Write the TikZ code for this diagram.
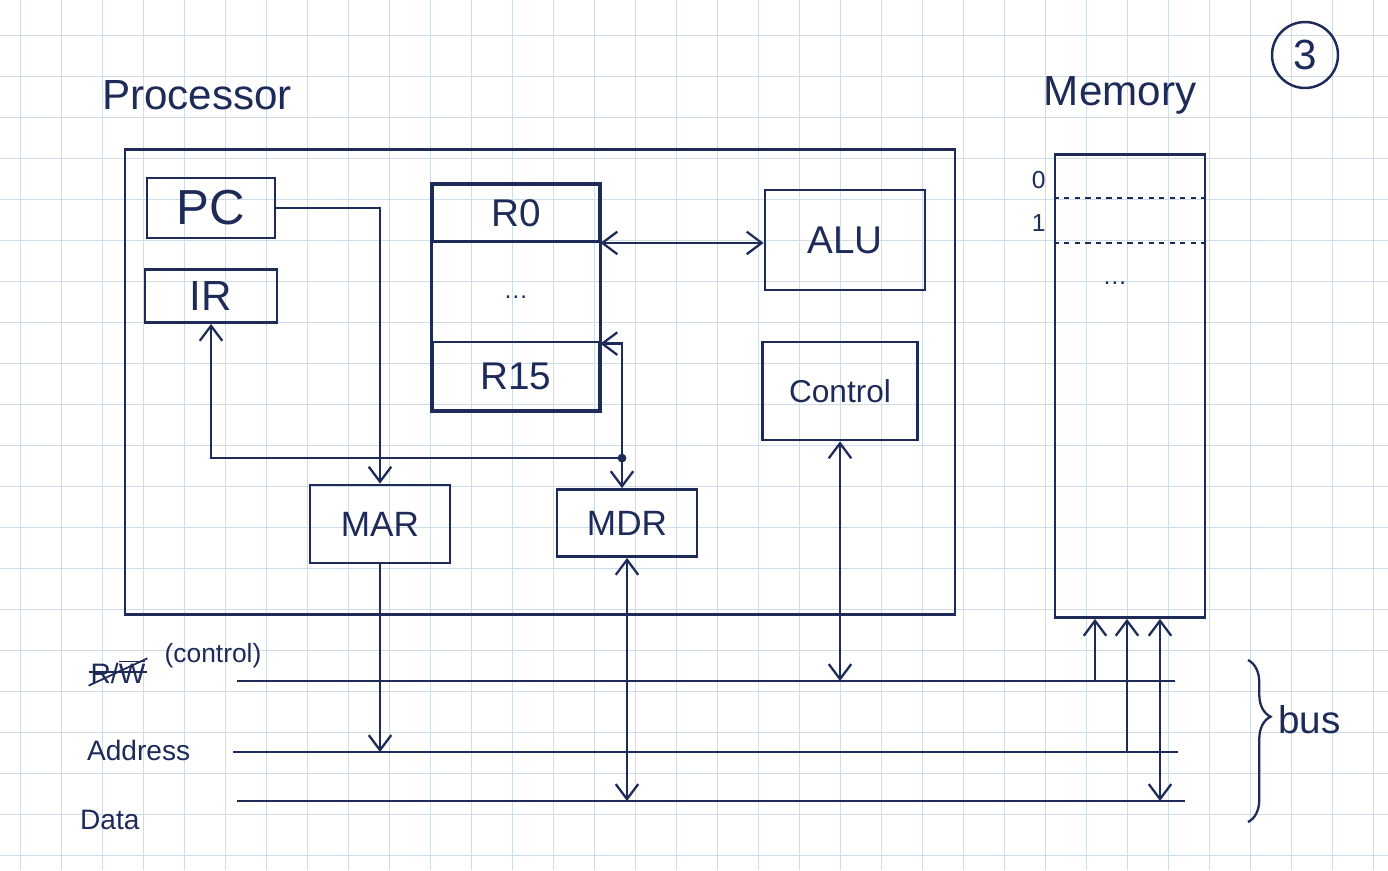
\documentclass[tikz,border=0pt]{standalone}
\usepackage{fontspec}
\setmainfont{Liberation Sans}
\usetikzlibrary{positioning,fit,calc,arrows.meta,decorations.pathreplacing}
\definecolor{ink}{RGB}{30,42,88}
\definecolor{gridc}{RGB}{206,220,232}
\newcommand{\fs}[1]{\fontsize{#1}{#1}\selectfont}

\begin{document}
\begin{tikzpicture}[
  x=0.02cm, y=-0.02cm,
  color=ink,
  >={Straight Barb[length=3mm,width=4.5mm,line width=1.3pt]},
  box/.style={draw, line width=1.6pt, inner sep=0pt, font=\fs{22}},
  wire/.style={line width=1.3pt},
  busline/.style={line width=1.5pt},
  big/.style={font=\fs{24}, inner sep=1pt},
  mid/.style={font=\fs{16}, inner sep=1pt},
  tiny/.style={font=\fs{14}, inner sep=1pt},
  gridline/.style={draw=gridc, line width=0.5pt},
]

% ---- paper ----
\fill[white] (0,0) rectangle (1388,870);
\useasboundingbox (0,0) rectangle (1388,870);
\foreach \gx in {20,61,...,1388} \draw[gridline] (\gx,0) -- (\gx,870);
\foreach \gy in {35,76,...,870} \draw[gridline] (0,\gy) -- (1388,\gy);

% ---- page number ----
\node[draw, circle, line width=1.4pt, minimum size=1.32cm, font=\fs{24}] (pg) at (1305,55) {3};

% ---- processor ----
\node[box, minimum width=16.6cm, minimum height=9.3cm] (CPU) at (540,382) {};
\node[big, anchor=south west] (cpuL) at (100,112) {Processor};

\node[box, minimum width=2.56cm, minimum height=1.2cm, font=\fs{28}] (PC) at (211,208) {PC};
\node[box, minimum width=2.64cm, minimum height=1.06cm, font=\fs{24}] (IR) at (211,296) {IR};

\node[box, minimum width=3.32cm, minimum height=1.14cm] (R0) at (516,213) {R0};
\node[box, minimum width=3.32cm, minimum height=1.36cm] (R15) at (516,376) {R15};
\node[fit=(R0)(R15), inner sep=0pt, draw, line width=1.6pt] (RF) {};
\node[tiny] (rfdots) at (RF.center) {\dots};

\node[box, minimum width=3.2cm, minimum height=2cm] (ALU) at (845,240) {ALU};
\node[box, minimum width=3.1cm, minimum height=1.96cm, font=\fs{18}] (Ctl) at (840,391) {Control};

\node[box, minimum width=2.8cm, minimum height=1.56cm, font=\fs{20}] (MAR) at (380,524) {MAR};
\node[box, minimum width=2.8cm, minimum height=1.34cm, font=\fs{20}] (MDR) at (627,523) {MDR};

% ---- memory ----
\node[box, minimum width=3cm, minimum height=9.26cm] (MEM) at (1130,386) {};
\node[big, anchor=south] (memL) at (1120,116) {Memory};
\draw[dashed, line width=1pt] ($(MEM.north west)+(0,45)$) -- ($(MEM.north east)+(0,45)$);
\draw[dashed, line width=1pt] ($(MEM.north west)+(0,90)$) -- ($(MEM.north east)+(0,90)$);
\node[tiny, anchor=east] (a0) at ($(MEM.north west)+(-6,27)$) {0};
\node[tiny, anchor=east] (a1) at ($(MEM.north west)+(-6,70)$) {1};
\node[tiny] (memdots) at ($(MEM.north)+(-15,130)$) {\dots};

% ---- internal wires ----
\draw[wire, ->] (PC.east) -| (MAR.north);
\coordinate (hub) at ($(MDR.north)+(-5,-30)$);
\coordinate (r15in) at ($(R15.north east)+(0,3)$);
\fill (hub) circle (2.5pt);
\draw[wire, ->] (hub) -- (hub |- MDR.north);
\draw[wire, ->] (hub) -| (IR.south);
\draw[wire, ->] (hub) |- (r15in);
\draw[wire, <->] (R0.south east) -- (R0.south east -| ALU.west);

% ---- bus ----
\coordinate (ctlL) at (237,681);
\coordinate (ctlR) at (1175,681);
\coordinate (adrL) at (233,752);
\coordinate (adrR) at (1178,752);
\coordinate (datL) at (237,801);
\coordinate (datR) at (1185,801);
\draw[busline] (ctlL) -- (ctlR);
\draw[busline] (adrL) -- (adrR);
\draw[busline] (datL) -- (datR);

\node[mid] (rwL) at (118,672) {R/$\overline{\mathrm{W}}$};
\draw[line width=1pt] (rwL.south west) -- (rwL.north east);
\draw[line width=1pt] (rwL.west) -- (rwL.east);
\node[tiny, font=\fs{15}] (ctlLab) at (213,656) {(control)};
\node[mid, anchor=west] (adrLab) at (85,750) {Address};
\node[mid, anchor=west] (datLab) at (78,820) {Data};

\draw[wire, <->] (Ctl.south) -- (Ctl.south |- ctlL);
\draw[wire, ->] (MAR.south) -- (MAR.south |- adrL);
\draw[wire, <->] (MDR.south) -- (MDR.south |- datL);

\coordinate (m1) at (1095,681);
\coordinate (m2) at (1127,752);
\coordinate (m3) at (1160,801);
\draw[wire, ->] (m1) -- (m1 |- MEM.south);
\draw[wire, ->] (m2) -- (m2 |- MEM.south);
\draw[wire, <->] (m3) -- (m3 |- MEM.south);

% ---- bus brace ----
\coordinate (brT) at (1248,660);
\coordinate (brB) at (1248,822);
\draw[wire, decorate, decoration={brace, amplitude=0.45cm, aspect=0.35}] (brT) -- (brB);
\node[big, font=\fs{22}, anchor=west] (busL) at (1276,720) {bus};

\end{tikzpicture}
\end{document}
